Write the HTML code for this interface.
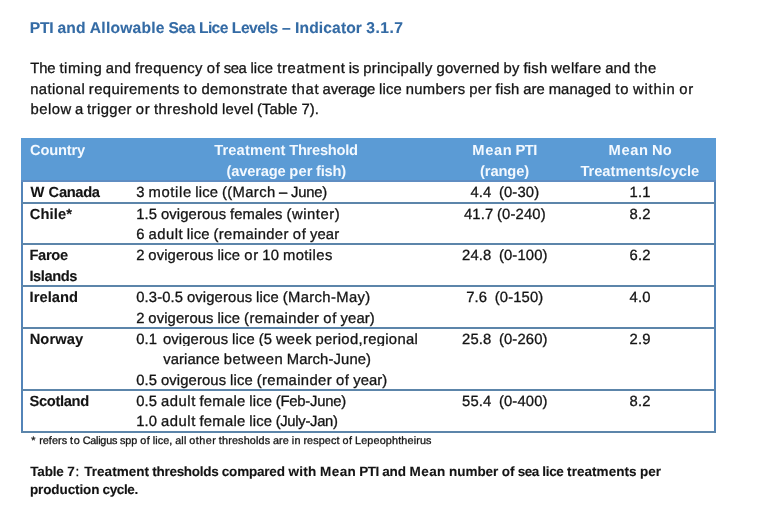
<!DOCTYPE html>
<html lang="en"><head><meta charset="utf-8"><title>PTI and Allowable Sea Lice Levels</title>
<style>
html,body{margin:0;padding:0;background:#fff;}
body{width:757px;height:525px;position:relative;overflow:hidden;font-family:"Liberation Sans",sans-serif;color:#141414;}
.t{position:absolute;white-space:pre;line-height:20px;height:20px;text-rendering:geometricPrecision;}
.t span{position:absolute;top:0;}
.hdr{position:absolute;left:21px;top:138px;width:695px;height:44px;background:#5b9bd5;}
.hb{position:absolute;left:21px;top:180px;width:695px;height:2px;background:#5f8dc2;}
.vl{position:absolute;top:182px;width:2px;height:251px;background:#5384b8;}
.ln{position:absolute;left:21px;width:695px;height:2px;background:#5c85aa;}
.clip{position:absolute;left:160px;top:346px;width:262px;height:6px;background:#fff;}
</style></head><body>
<div class="hdr"></div><div class="hb"></div>
<div class="t" style="left:30.00px;top:19px;font-size:15.6px;width:373.2px;font-weight:bold;-webkit-text-stroke:0.12px;color:#346ba5;"><span style="left:-0.16px;letter-spacing:-0.318px">PTI</span> <span style="left:27.47px;letter-spacing:0.185px">and</span> <span style="left:59.86px;letter-spacing:0.232px">Allowable</span> <span style="left:138.49px;letter-spacing:-0.406px">Sea</span> <span style="left:169.00px;letter-spacing:-0.623px">Lice</span> <span style="left:201.87px;letter-spacing:-0.470px">Levels</span> <span style="left:252.07px;letter-spacing:0.308px">–</span> <span style="left:265.04px;letter-spacing:0.132px">Indicator</span> <span style="left:336.33px;letter-spacing:0.485px">3.1.7</span></div>
<div class="t" style="left:30.40px;top:59px;font-size:14.8px;width:626.3px;-webkit-text-stroke:0.30px;"><span style="left:-0.08px;letter-spacing:-0.151px">The</span> <span style="left:29.06px;letter-spacing:0.552px">timing</span> <span style="left:75.44px;letter-spacing:0.224px">and</span> <span style="left:104.59px;letter-spacing:0.307px">frequency</span> <span style="left:176.30px;letter-spacing:0.727px">of</span> <span style="left:193.29px;letter-spacing:-0.391px">sea</span> <span style="left:219.99px;letter-spacing:0.168px">lice</span> <span style="left:246.85px;letter-spacing:0.644px">treatment</span> <span style="left:318.48px;letter-spacing:-0.203px">is</span> <span style="left:332.78px;letter-spacing:0.345px">principally</span> <span style="left:406.06px;letter-spacing:0.209px">governed</span> <span style="left:473.20px;letter-spacing:0.250px">by</span> <span style="left:493.07px;letter-spacing:0.234px">fish</span> <span style="left:520.85px;letter-spacing:0.364px">welfare</span> <span style="left:574.78px;letter-spacing:0.224px">and</span> <span style="left:604.09px;letter-spacing:0.651px">the</span></div>
<div class="t" style="left:30.00px;top:80px;font-size:14.8px;width:663.4px;-webkit-text-stroke:0.30px;"><span style="left:0.19px;letter-spacing:0.387px">national</span> <span style="left:58.86px;letter-spacing:0.380px">requirements</span> <span style="left:153.80px;letter-spacing:0.900px">to</span> <span style="left:171.42px;letter-spacing:0.372px">demonstrate</span> <span style="left:261.70px;letter-spacing:0.734px">that</span> <span style="left:292.62px;letter-spacing:-0.136px">average</span> <span style="left:349.05px;letter-spacing:0.164px">lice</span> <span style="left:375.72px;letter-spacing:0.292px">numbers</span> <span style="left:439.16px;letter-spacing:0.448px">per</span> <span style="left:465.54px;letter-spacing:0.234px">fish</span> <span style="left:493.19px;letter-spacing:0.125px">are</span> <span style="left:518.68px;letter-spacing:0.109px">managed</span> <span style="left:585.29px;letter-spacing:0.898px">to</span> <span style="left:603.10px;letter-spacing:0.768px">within</span> <span style="left:649.25px;letter-spacing:0.680px">or</span></div>
<div class="t" style="left:30.20px;top:100px;font-size:14.8px;width:288.8px;-webkit-text-stroke:0.30px;"><span style="left:0.26px;letter-spacing:0.525px">below</span> <span style="left:44.88px;letter-spacing:-0.297px">a</span> <span style="left:56.92px;letter-spacing:0.408px">trigger</span> <span style="left:105.59px;letter-spacing:0.688px">or</span> <span style="left:123.73px;letter-spacing:0.405px">threshold</span> <span style="left:191.89px;letter-spacing:0.184px">level</span> <span style="left:226.91px;letter-spacing:0.036px">(Table</span> <span style="left:271.21px;letter-spacing:0.115px">7).</span></div>
<div class="t" style="left:30.10px;top:141px;font-size:14.7px;width:54.9px;font-weight:bold;color:#f3f9ff;"><span style="left:-0.10px;letter-spacing:-0.201px">Country</span></div>
<div class="t" style="left:214.09px;top:141px;font-size:14.7px;width:143.8px;font-weight:bold;color:#f3f9ff;"><span style="left:0.07px;letter-spacing:0.146px">Treatment</span> <span style="left:75.11px;letter-spacing:-0.273px">Threshold</span></div>
<div class="t" style="left:226.70px;top:162px;font-size:14.7px;width:119.4px;font-weight:bold;color:#f3f9ff;"><span style="left:-0.10px;letter-spacing:-0.191px">(average</span> <span style="left:62.67px;letter-spacing:0.099px">per</span> <span style="left:89.40px;letter-spacing:-0.228px">fish)</span></div>
<div class="t" style="left:472.06px;top:141px;font-size:14.7px;width:65.1px;font-weight:bold;color:#f3f9ff;"><span style="left:0.30px;letter-spacing:0.594px">Mean</span> <span style="left:43.41px;letter-spacing:-0.484px">PTI</span></div>
<div class="t" style="left:480.12px;top:162px;font-size:14.7px;width:49.0px;font-weight:bold;color:#f3f9ff;"><span style="left:-0.06px;letter-spacing:-0.116px">(range)</span></div>
<div class="t" style="left:608.25px;top:141px;font-size:14.7px;width:63.5px;font-weight:bold;color:#f3f9ff;"><span style="left:0.30px;letter-spacing:0.594px">Mean</span> <span style="left:43.72px;letter-spacing:0.125px">No</span></div>
<div class="t" style="left:580.41px;top:162px;font-size:14.7px;width:118.8px;font-weight:bold;color:#f3f9ff;"><span style="left:-0.01px;letter-spacing:-0.026px">Treatments/cycle</span></div>
<div class="t" style="left:30.00px;top:183px;font-size:14.7px;width:69.9px;font-weight:bold;-webkit-text-stroke:0.12px;"><span style="left:0.58px;letter-spacing:0.900px">W</span> <span style="left:18.60px;letter-spacing:-0.323px">Canada</span></div>
<div class="t" style="left:29.60px;top:205px;font-size:14.7px;width:42.4px;font-weight:bold;-webkit-text-stroke:0.12px;"><span style="left:0.07px;letter-spacing:0.133px">Chile*</span></div>
<div class="t" style="left:29.60px;top:246px;font-size:14.7px;width:38.3px;font-weight:bold;-webkit-text-stroke:0.12px;"><span style="left:-0.17px;letter-spacing:-0.341px">Faroe</span></div>
<div class="t" style="left:29.60px;top:267px;font-size:14.7px;width:47.7px;font-weight:bold;-webkit-text-stroke:0.12px;"><span style="left:-0.21px;letter-spacing:-0.417px">Islands</span></div>
<div class="t" style="left:29.60px;top:288px;font-size:14.7px;width:48.5px;font-weight:bold;-webkit-text-stroke:0.12px;"><span style="left:0.03px;letter-spacing:0.051px">Ireland</span></div>
<div class="t" style="left:29.60px;top:330px;font-size:14.7px;width:53.7px;font-weight:bold;-webkit-text-stroke:0.12px;"><span style="left:0.06px;letter-spacing:0.112px">Norway</span></div>
<div class="t" style="left:29.60px;top:392px;font-size:14.7px;width:59.4px;font-weight:bold;-webkit-text-stroke:0.12px;"><span style="left:-0.16px;letter-spacing:-0.328px">Scotland</span></div>
<div class="t" style="left:136.10px;top:183px;font-size:14.8px;width:191.0px;-webkit-text-stroke:0.30px;"><span style="left:0.09px;letter-spacing:0.172px">3</span> <span style="left:12.46px;letter-spacing:0.635px">motile</span> <span style="left:59.25px;letter-spacing:0.164px">lice</span> <span style="left:85.96px;letter-spacing:0.353px">((March</span> <span style="left:142.96px;letter-spacing:0.016px">–</span> <span style="left:154.85px;letter-spacing:-0.206px">June)</span></div>
<div class="t" style="left:136.10px;top:205px;font-size:14.8px;width:203.8px;-webkit-text-stroke:0.30px;"><span style="left:0.07px;letter-spacing:0.141px">1.5</span> <span style="left:24.80px;letter-spacing:0.128px">ovigerous</span> <span style="left:93.85px;letter-spacing:0.116px">females</span> <span style="left:150.44px;letter-spacing:0.541px">(winter)</span></div>
<div class="t" style="left:136.10px;top:225px;font-size:14.8px;width:203.1px;-webkit-text-stroke:0.30px;"><span style="left:0.09px;letter-spacing:0.172px">6</span> <span style="left:12.40px;letter-spacing:0.525px">adult</span> <span style="left:50.69px;letter-spacing:0.168px">lice</span> <span style="left:77.41px;letter-spacing:0.373px">(remainder</span> <span style="left:156.61px;letter-spacing:0.727px">of</span> <span style="left:173.86px;letter-spacing:0.121px">year</span></div>
<div class="t" style="left:136.10px;top:246px;font-size:14.8px;width:196.4px;-webkit-text-stroke:0.30px;"><span style="left:0.09px;letter-spacing:0.172px">2</span> <span style="left:12.21px;letter-spacing:0.130px">ovigerous</span> <span style="left:81.30px;letter-spacing:0.168px">lice</span> <span style="left:108.17px;letter-spacing:0.688px">or</span> <span style="left:126.18px;letter-spacing:0.180px">10</span> <span style="left:146.86px;letter-spacing:0.411px">motiles</span></div>
<div class="t" style="left:136.10px;top:288px;font-size:14.8px;width:234.3px;-webkit-text-stroke:0.30px;"><span style="left:0.07px;letter-spacing:0.141px">0.3-0.5</span> <span style="left:50.86px;letter-spacing:0.130px">ovigerous</span> <span style="left:119.96px;letter-spacing:0.164px">lice</span> <span style="left:146.66px;letter-spacing:0.361px">(March-May)</span></div>
<div class="t" style="left:136.10px;top:309px;font-size:14.8px;width:238.7px;-webkit-text-stroke:0.30px;"><span style="left:0.09px;letter-spacing:0.172px">2</span> <span style="left:12.21px;letter-spacing:0.130px">ovigerous</span> <span style="left:81.30px;letter-spacing:0.168px">lice</span> <span style="left:108.02px;letter-spacing:0.375px">(remainder</span> <span style="left:187.22px;letter-spacing:0.727px">of</span> <span style="left:204.46px;letter-spacing:0.116px">year)</span></div>
<div class="t" style="left:136.10px;top:330px;font-size:14.8px;width:21.0px;-webkit-text-stroke:0.30px;"><span style="left:0.07px;letter-spacing:0.141px">0.1</span></div>
<div class="t" style="left:136.10px;top:371px;font-size:14.8px;width:251.3px;-webkit-text-stroke:0.30px;"><span style="left:0.07px;letter-spacing:0.141px">0.5</span> <span style="left:24.80px;letter-spacing:0.128px">ovigerous</span> <span style="left:93.88px;letter-spacing:0.168px">lice</span> <span style="left:120.61px;letter-spacing:0.372px">(remainder</span> <span style="left:199.80px;letter-spacing:0.727px">of</span> <span style="left:217.04px;letter-spacing:0.116px">year)</span></div>
<div class="t" style="left:136.10px;top:392px;font-size:14.8px;width:210.1px;-webkit-text-stroke:0.30px;"><span style="left:0.07px;letter-spacing:0.141px">0.5</span> <span style="left:25.00px;letter-spacing:0.525px">adult</span> <span style="left:63.35px;letter-spacing:0.286px">female</span> <span style="left:113.16px;letter-spacing:0.164px">lice</span> <span style="left:139.59px;letter-spacing:-0.195px">(Feb-June)</span></div>
<div class="t" style="left:136.10px;top:412px;font-size:14.8px;width:201.7px;-webkit-text-stroke:0.30px;"><span style="left:0.07px;letter-spacing:0.141px">1.0</span> <span style="left:25.00px;letter-spacing:0.525px">adult</span> <span style="left:63.35px;letter-spacing:0.286px">female</span> <span style="left:113.16px;letter-spacing:0.164px">lice</span> <span style="left:139.54px;letter-spacing:-0.294px">(July-Jan)</span></div>
<div class="t" style="left:162.90px;top:330px;font-size:14.8px;width:255.1px;-webkit-text-stroke:0.30px;"><span style="left:0.06px;letter-spacing:0.128px">ovigerous</span> <span style="left:69.15px;letter-spacing:0.168px">lice</span> <span style="left:95.75px;letter-spacing:0.133px">(5</span> <span style="left:113.01px;letter-spacing:0.297px">week</span> <span style="left:152.51px;letter-spacing:0.324px">period,regional</span></div>
<div class="t" style="left:163.20px;top:350px;font-size:14.8px;width:208.0px;-webkit-text-stroke:0.30px;"><span style="left:0.05px;letter-spacing:0.094px">variance</span> <span style="left:60.66px;letter-spacing:0.484px">between</span> <span style="left:123.56px;letter-spacing:0.126px">March-June)</span></div>
<div class="t" style="left:470.39px;top:183px;font-size:14.8px;width:68.8px;-webkit-text-stroke:0.30px;"><span style="left:0.07px;letter-spacing:0.141px">4.4</span>  <span style="left:28.56px;letter-spacing:0.143px">(0-30)</span></div>
<div class="t" style="left:463.85px;top:205px;font-size:14.8px;width:81.9px;-webkit-text-stroke:0.30px;"><span style="left:0.07px;letter-spacing:0.148px">41.7</span> <span style="left:33.20px;letter-spacing:0.150px">(0-240)</span></div>
<div class="t" style="left:461.98px;top:246px;font-size:14.8px;width:85.6px;-webkit-text-stroke:0.30px;"><span style="left:0.07px;letter-spacing:0.148px">24.8</span>  <span style="left:36.95px;letter-spacing:0.150px">(0-100)</span></div>
<div class="t" style="left:466.18px;top:288px;font-size:14.8px;width:77.2px;-webkit-text-stroke:0.30px;"><span style="left:0.07px;letter-spacing:0.141px">7.6</span>  <span style="left:28.56px;letter-spacing:0.147px">(0-150)</span></div>
<div class="t" style="left:461.98px;top:330px;font-size:14.8px;width:85.6px;-webkit-text-stroke:0.30px;"><span style="left:0.07px;letter-spacing:0.148px">25.8</span>  <span style="left:36.95px;letter-spacing:0.150px">(0-260)</span></div>
<div class="t" style="left:461.98px;top:392px;font-size:14.8px;width:85.6px;-webkit-text-stroke:0.30px;"><span style="left:0.07px;letter-spacing:0.148px">55.4</span>  <span style="left:36.95px;letter-spacing:0.150px">(0-400)</span></div>
<div class="t" style="left:629.50px;top:183px;font-size:14.8px;width:21.0px;-webkit-text-stroke:0.30px;"><span style="left:0.07px;letter-spacing:0.141px">1.1</span></div>
<div class="t" style="left:629.50px;top:205px;font-size:14.8px;width:21.0px;-webkit-text-stroke:0.30px;"><span style="left:0.07px;letter-spacing:0.141px">8.2</span></div>
<div class="t" style="left:629.50px;top:246px;font-size:14.8px;width:21.0px;-webkit-text-stroke:0.30px;"><span style="left:0.07px;letter-spacing:0.141px">6.2</span></div>
<div class="t" style="left:629.50px;top:288px;font-size:14.8px;width:21.0px;-webkit-text-stroke:0.30px;"><span style="left:0.07px;letter-spacing:0.141px">4.0</span></div>
<div class="t" style="left:629.50px;top:330px;font-size:14.8px;width:21.0px;-webkit-text-stroke:0.30px;"><span style="left:0.07px;letter-spacing:0.141px">2.9</span></div>
<div class="t" style="left:629.50px;top:392px;font-size:14.8px;width:21.0px;-webkit-text-stroke:0.30px;"><span style="left:0.07px;letter-spacing:0.141px">8.2</span></div>
<div class="t" style="left:30.40px;top:431px;font-size:10.8px;width:401.2px;-webkit-text-stroke:0.30px;"><span style="left:0.90px;letter-spacing:0.900px">*</span> <span style="left:8.74px;letter-spacing:0.062px">refers</span> <span style="left:39.73px;letter-spacing:0.635px">to</span> <span style="left:52.29px;letter-spacing:-0.227px">Caligus</span> <span style="left:89.53px;letter-spacing:-0.014px">spp</span> <span style="left:109.88px;letter-spacing:0.506px">of</span> <span style="left:122.40px;letter-spacing:0.083px">lice,</span> <span style="left:144.78px;letter-spacing:0.167px">all</span> <span style="left:158.95px;letter-spacing:0.456px">other</span> <span style="left:188.42px;letter-spacing:0.175px">thresholds</span> <span style="left:242.65px;letter-spacing:0.060px">are</span> <span style="left:261.30px;letter-spacing:0.349px">in</span> <span style="left:273.00px;letter-spacing:0.110px">respect</span> <span style="left:312.10px;letter-spacing:0.506px">of</span> <span style="left:324.67px;letter-spacing:0.154px">Lepeophtheirus</span></div>
<div class="t" style="left:30.30px;top:462px;font-size:13.5px;width:44.5px;font-weight:bold;-webkit-text-stroke:0.12px;"><span style="left:-0.09px;letter-spacing:-0.172px">Table</span> <span style="left:36.91px;letter-spacing:0.188px">7</span></div>
<div class="t" style="left:75.40px;top:462px;font-size:13.5px;width:4.1px;-webkit-text-stroke:0.30px;"><span style="left:0.16px;letter-spacing:0.312px">:</span></div>
<div class="t" style="left:84.20px;top:462px;font-size:13.5px;width:576.8px;font-weight:bold;-webkit-text-stroke:0.12px;"><span style="left:0.02px;letter-spacing:0.044px">Treatment</span> <span style="left:68.17px;letter-spacing:-0.300px">thresholds</span> <span style="left:137.63px;letter-spacing:-0.202px">compared</span> <span style="left:204.19px;letter-spacing:0.307px">with</span> <span style="left:235.86px;letter-spacing:0.438px">Mean</span> <span style="left:275.02px;letter-spacing:-0.522px">PTI</span> <span style="left:298.06px;letter-spacing:-0.139px">and</span> <span style="left:325.33px;letter-spacing:0.430px">Mean</span> <span style="left:364.75px;letter-spacing:-0.017px">number</span> <span style="left:417.59px;letter-spacing:0.051px">of</span> <span style="left:433.57px;letter-spacing:-0.501px">sea</span> <span style="left:458.07px;letter-spacing:-0.310px">lice</span> <span style="left:482.93px;letter-spacing:0.044px">treatments</span> <span style="left:555.77px;letter-spacing:0.005px">per</span></div>
<div class="t" style="left:30.00px;top:480px;font-size:13.5px;width:108.0px;font-weight:bold;-webkit-text-stroke:0.12px;"><span style="left:-0.06px;letter-spacing:-0.111px">production</span> <span style="left:72.61px;letter-spacing:-0.398px">cycle.</span></div>
<div class="clip"></div>
<div class="vl" style="left:21px"></div><div class="vl" style="left:714px"></div>
<div class="ln" style="top:202px"></div>
<div class="ln" style="top:243px"></div>
<div class="ln" style="top:285px"></div>
<div class="ln" style="top:327px"></div>
<div class="ln" style="top:389px"></div>
<div class="ln" style="top:431px"></div>
</body></html>
